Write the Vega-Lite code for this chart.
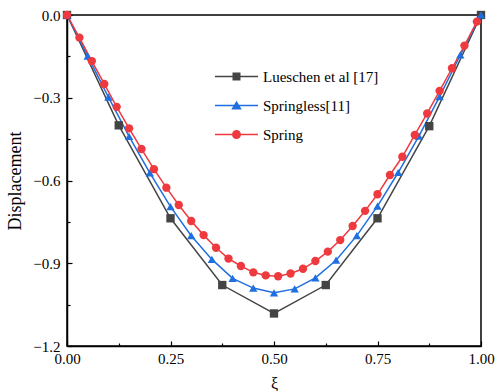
{
  "$schema": "https://vega.github.io/schema/vega-lite/v6.json",
  "width": 414,
  "height": 331,
  "autosize": "none",
  "padding": {"left": 67, "top": 15, "right": 14, "bottom": 45},
  "background": "white",
  "config": {
    "view": {"stroke": "black", "strokeWidth": 1.5},
    "font": "Liberation Serif",
    "legend": {"labelFont": "Liberation Serif", "labelFontSize": 15, "labelColor": "black", "orient": "none", "title": null, "padding": 0, "symbolSize": 1849, "labelOffset": 5, "symbolStrokeWidth": 0, "symbolOpacity": 1, "legendX": 148},
    "axis": {"grid": false, "domainColor": "black", "domainWidth": 1.5, "tickColor": "black", "tickWidth": 1.2, "labelColor": "black", "titleColor": "black", "labelFont": "Liberation Serif", "titleFont": "Liberation Serif", "titleFontWeight": "normal"}
  },
  "datasets": {
    "pts": [
      {"series": "Lueschen et al [17]", "xi": 0, "disp": 0},
      {"series": "Lueschen et al [17]", "xi": 0.125, "disp": -0.4},
      {"series": "Lueschen et al [17]", "xi": 0.25, "disp": -0.737},
      {"series": "Lueschen et al [17]", "xi": 0.375, "disp": -0.979},
      {"series": "Lueschen et al [17]", "xi": 0.5, "disp": -1.082},
      {"series": "Lueschen et al [17]", "xi": 0.625, "disp": -0.979},
      {"series": "Lueschen et al [17]", "xi": 0.75, "disp": -0.737},
      {"series": "Lueschen et al [17]", "xi": 0.875, "disp": -0.403},
      {"series": "Lueschen et al [17]", "xi": 1, "disp": 0},
      {"series": "Springless[11]", "xi": 0, "disp": 0},
      {"series": "Springless[11]", "xi": 0.05, "disp": -0.149},
      {"series": "Springless[11]", "xi": 0.1, "disp": -0.298},
      {"series": "Springless[11]", "xi": 0.15, "disp": -0.44},
      {"series": "Springless[11]", "xi": 0.2, "disp": -0.572},
      {"series": "Springless[11]", "xi": 0.25, "disp": -0.695},
      {"series": "Springless[11]", "xi": 0.3, "disp": -0.8},
      {"series": "Springless[11]", "xi": 0.35, "disp": -0.886},
      {"series": "Springless[11]", "xi": 0.4, "disp": -0.955},
      {"series": "Springless[11]", "xi": 0.45, "disp": -0.99},
      {"series": "Springless[11]", "xi": 0.5, "disp": -1.007},
      {"series": "Springless[11]", "xi": 0.55, "disp": -0.993},
      {"series": "Springless[11]", "xi": 0.6, "disp": -0.953},
      {"series": "Springless[11]", "xi": 0.65, "disp": -0.889},
      {"series": "Springless[11]", "xi": 0.7, "disp": -0.8},
      {"series": "Springless[11]", "xi": 0.75, "disp": -0.693},
      {"series": "Springless[11]", "xi": 0.8, "disp": -0.571},
      {"series": "Springless[11]", "xi": 0.85, "disp": -0.439},
      {"series": "Springless[11]", "xi": 0.9, "disp": -0.296},
      {"series": "Springless[11]", "xi": 0.95, "disp": -0.145},
      {"series": "Springless[11]", "xi": 1, "disp": 0},
      {"series": "Spring", "xi": 0, "disp": 0},
      {"series": "Spring", "xi": 0.03, "disp": -0.082},
      {"series": "Spring", "xi": 0.06, "disp": -0.167},
      {"series": "Spring", "xi": 0.09, "disp": -0.25},
      {"series": "Spring", "xi": 0.12, "disp": -0.333},
      {"series": "Spring", "xi": 0.15, "disp": -0.411},
      {"series": "Spring", "xi": 0.18, "disp": -0.486},
      {"series": "Spring", "xi": 0.21, "disp": -0.559},
      {"series": "Spring", "xi": 0.24, "disp": -0.626},
      {"series": "Spring", "xi": 0.27, "disp": -0.689},
      {"series": "Spring", "xi": 0.3, "disp": -0.747},
      {"series": "Spring", "xi": 0.33, "disp": -0.798},
      {"series": "Spring", "xi": 0.36, "disp": -0.844},
      {"series": "Spring", "xi": 0.39, "disp": -0.883},
      {"series": "Spring", "xi": 0.42, "disp": -0.91},
      {"series": "Spring", "xi": 0.45, "disp": -0.933},
      {"series": "Spring", "xi": 0.48, "disp": -0.944},
      {"series": "Spring", "xi": 0.51, "disp": -0.947},
      {"series": "Spring", "xi": 0.54, "disp": -0.937},
      {"series": "Spring", "xi": 0.57, "disp": -0.92},
      {"series": "Spring", "xi": 0.6, "disp": -0.892},
      {"series": "Spring", "xi": 0.63, "disp": -0.858},
      {"series": "Spring", "xi": 0.66, "disp": -0.816},
      {"series": "Spring", "xi": 0.69, "disp": -0.765},
      {"series": "Spring", "xi": 0.72, "disp": -0.71},
      {"series": "Spring", "xi": 0.75, "disp": -0.65},
      {"series": "Spring", "xi": 0.78, "disp": -0.58},
      {"series": "Spring", "xi": 0.81, "disp": -0.514},
      {"series": "Spring", "xi": 0.84, "disp": -0.435},
      {"series": "Spring", "xi": 0.87, "disp": -0.357},
      {"series": "Spring", "xi": 0.9, "disp": -0.275},
      {"series": "Spring", "xi": 0.93, "disp": -0.193},
      {"series": "Spring", "xi": 0.96, "disp": -0.111},
      {"series": "Spring", "xi": 0.99, "disp": -0.024}
    ]
  },
  "data": {"name": "pts"},
  "encoding": {
    "x": {
      "field": "xi", "type": "quantitative",
      "scale": {"domain": [0, 1], "nice": false, "zero": false},
      "axis": {
        "title": "ξ", "titleFontSize": 16, "titlePadding": 9,
        "values": [0, 0.125, 0.25, 0.375, 0.5, 0.625, 0.75, 0.875, 1],
        "format": ".2f",
        "labelExpr": "round(datum.value*1000) % 250 == 0 ? datum.label : ''",
        "labelFontSize": 15, "labelPadding": 10,
        "tickSize": {"condition": {"test": "round(datum.value*1000) % 250 == 0", "value": -5}, "value": -3},
        "labelFlush": false
      }
    },
    "y": {
      "field": "disp", "type": "quantitative",
      "scale": {"domain": [-1.2, 0], "nice": false, "zero": false},
      "axis": {
        "title": "Displacement", "titleFontSize": 18, "titlePadding": 8,
        "values": [-1.2, -1.05, -0.9, -0.75, -0.6, -0.45, -0.3, -0.15, 0],
        "format": ".1f",
        "labelExpr": "round(datum.value*100) % 30 == 0 ? datum.label : ''",
        "labelFontSize": 15, "labelPadding": 12,
        "tickSize": {"condition": {"test": "round(datum.value*100) % 30 == 0", "value": -5}, "value": -3},
        "labelFlush": false
      }
    },
    "color": {
      "field": "series", "type": "nominal",
      "scale": {"domain": ["Spring", "Springless[11]", "Lueschen et al [17]"], "range": ["#ee3a3f", "#1f6fe0", "#444444"]},
      "legend": null
    }
  },
  "resolve": {"scale": {"shape": "independent"}, "legend": {"shape": "independent"}},
  "layer": [
    {
      "mark": {"type": "line", "strokeWidth": 1.5}
    },
    {
      "mark": {"type": "point", "filled": true, "opacity": 1, "size": 70},
      "encoding": {
        "shape": {
          "field": "series", "type": "nominal",
          "scale": {"domain": ["Lueschen et al [17]", "Springless[11]", "Spring"], "range": ["square", "triangle-up", "circle"]},
          "legend": null
        }
      }
    },
    {
      "transform": [{"filter": "false"}],
      "mark": {"type": "point", "filled": true, "opacity": 1},
      "encoding": {
        "shape": {
          "field": "series", "type": "nominal",
          "scale": {"domain": ["Lueschen et al [17]"], "range": ["M-1,-0.035H1V0.035H-1Z M-0.186,-0.186H0.186V0.186H-0.186Z"]},
          "legend": {"legendY": 40, "symbolFillColor": "#444444", "labelFont": "Liberation Serif", "labelFontSize": 15}
        }
      }
    },
    {
      "transform": [{"filter": "false"}],
      "mark": {"type": "point", "filled": true, "opacity": 1},
      "encoding": {
        "shape": {
          "field": "series", "type": "nominal",
          "scale": {"domain": ["Springless[11]"], "range": ["M-1,-0.035H1V0.035H-1Z M0,-0.22L0.245,0.19H-0.245Z"]},
          "legend": {"legendY": 69, "symbolFillColor": "#1f6fe0", "labelFont": "Liberation Serif", "labelFontSize": 15}
        }
      }
    },
    {
      "transform": [{"filter": "false"}],
      "mark": {"type": "point", "filled": true, "opacity": 1},
      "encoding": {
        "shape": {
          "field": "series", "type": "nominal",
          "scale": {"domain": ["Spring"], "range": ["M-1,-0.035H1V0.035H-1Z M0.21,0A0.21,0.21 0 1,1 -0.21,0A0.21,0.21 0 1,1 0.21,0Z"]},
          "legend": {"legendY": 98, "symbolFillColor": "#ee3a3f", "labelFont": "Liberation Serif", "labelFontSize": 15}
        }
      }
    }
  ]
}
